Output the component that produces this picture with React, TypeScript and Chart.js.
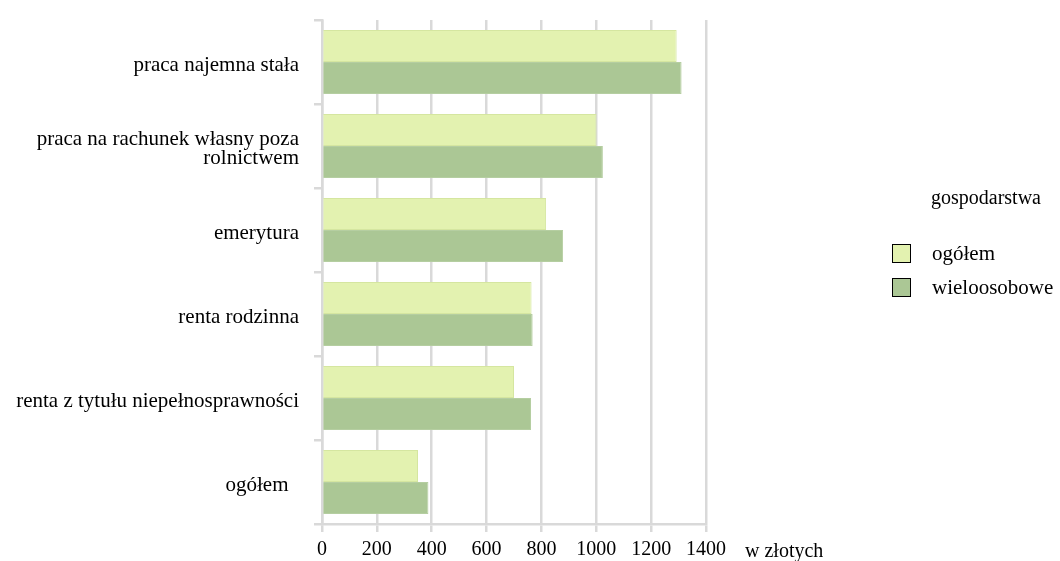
import React, { useEffect, useRef } from "react";
import { Chart, registerables } from "chart.js";

Chart.register(...registerables);

const categories: (string | string[])[] = [
  "praca najemna stała",
  ["praca na rachunek własny poza", "rolnictwem"],
  "emerytura",
  "renta rodzinna",
  "renta z tytułu niepełnosprawności",
  "ogółem  ",
];
const seriesNames = ["ogółem", "wieloosobowe"];
const ogolemValues = [1293, 1001, 817, 764, 700, 350];
const wieloosoboweValues = [1311, 1024, 879, 768, 762, 388];
const xTickValues = [0, 200, 400, 600, 800, 1000, 1200, 1400];
const legendTitle = "gospodarstwa";
const xAxisTitle = "w złotych";

const FONT = "'Liberation Serif', 'Times New Roman', serif";
const GRID = "#d9d9d9";
const FILLS = ["#e3f2b0", "#abc795"];
const BORDERS = ["#d5e6a0", "#b5cea1"];

const overlayPlugin = {
  id: "overlay",
  afterDraw(chart: any) {
    const ctx = chart.ctx;
    ctx.save();
    ctx.font = `20px ${FONT}`;
    ctx.fillStyle = "#000";
    ctx.textBaseline = "middle";
    ctx.textAlign = "left";
    ctx.fillText(xAxisTitle, 745, 552);
    ctx.fillText(legendTitle, 931, 199);
    ctx.font = `21px ${FONT}`;
    chart.data.datasets.forEach((ds: any, i: number) => {
      const y = 253 + i * 34;
      ctx.fillStyle = ds.backgroundColor;
      ctx.fillRect(892, y - 9, 18, 18);
      ctx.strokeStyle = "#000";
      ctx.lineWidth = 1;
      ctx.strokeRect(892.5, y - 8.5, 18, 18);
      ctx.fillStyle = "#000";
      ctx.fillText(ds.label, 932, y + 1);
    });
    ctx.restore();
  },
};

export default function App() {
  const ref = useRef<HTMLCanvasElement | null>(null);
  useEffect(() => {
    if (!ref.current) return;
    const chart = new Chart(ref.current, {
      type: "bar",
      data: {
        labels: categories,
        datasets: [
          {
            label: seriesNames[0],
            data: ogolemValues,
            backgroundColor: FILLS[0],
            borderColor: BORDERS[0],
            borderWidth: 1,
          },
          {
            label: seriesNames[1],
            data: wieloosoboweValues,
            backgroundColor: FILLS[1],
            borderColor: BORDERS[1],
            borderWidth: 1,
          },
        ],
      },
      options: {
        indexAxis: "y",
        responsive: false,
        animation: false,
        devicePixelRatio: 1,
        datasets: { bar: { categoryPercentage: 0.76, barPercentage: 1 } },
        layout: { padding: { left: 0, top: 20, right: 354, bottom: 0 } },
        plugins: {
          legend: { display: false },
          tooltip: { enabled: false },
          title: { display: false },
        },
        scales: {
          x: {
            type: "linear",
            min: 0,
            max: 1400,
            afterBuildTicks(scale: any) {
              scale.ticks = xTickValues.map((v) => ({ value: v }));
            },
            afterFit(scale: any) {
              scale.height = 37;
              scale.paddingLeft = 0;
              scale.paddingRight = 0;
            },
            grid: {
              color: GRID,
              lineWidth: 2.5,
              drawTicks: true,
              tickLength: 8,
            },
            border: { display: true, color: GRID, width: 2.5 },
            ticks: {
              color: "#000",
              font: { family: FONT, size: 20 },
              padding: 6,
              maxRotation: 0,
              callback: (v: any) => String(v),
            },
          },
          y: {
            type: "category",
            afterFit(scale: any) {
              scale.width = 322;
              scale.paddingTop = 0;
              scale.paddingBottom = 0;
            },
            grid: {
              color: GRID,
              lineWidth: 2.5,
              drawOnChartArea: false,
              drawTicks: true,
              tickLength: 8,
              offset: true,
            },
            border: { display: true, color: GRID, width: 2.5 },
            ticks: {
              color: "#000",
              font: { family: FONT, size: 21, lineHeight: 0.9 },
              padding: 15,
              labelOffset: 3,
              autoSkip: false,
            },
          },
        },
      },
      plugins: [overlayPlugin],
    } as any);
    return () => chart.destroy();
  }, []);
  return (
    <div style={{ position: "fixed", left: 0, top: 0, width: 1060, height: 561, background: "#fff" }}>
      <canvas ref={ref} width={1060} height={561} style={{ display: "block" }} />
    </div>
  );
}
